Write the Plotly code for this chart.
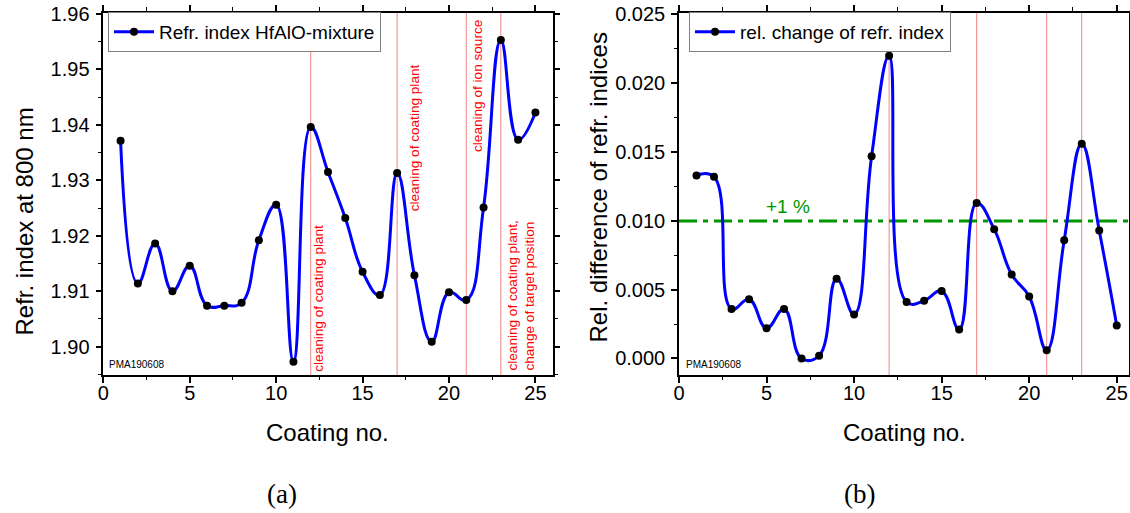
import plotly.graph_objects as go

# Coating runs
coating = list(range(1, 26))

# Refractive index at 800 nm of the HfAlO mixture per coating run
refr_index = [1.9371, 1.9114, 1.9186, 1.9100, 1.9146, 1.9074, 1.9074, 1.9079,
              1.9192, 1.9256, 1.8973, 1.9396, 1.9315, 1.9232, 1.9135, 1.9093,
              1.9313, 1.9129, 1.9009, 1.9098, 1.9084, 1.9251, 1.9553, 1.9373,
              1.9422]

# Relative change of the refractive index between consecutive runs
rel_change = [0.0133, 0.0132, 0.0036, 0.0043, 0.0022, 0.0036, 0.0000, 0.0002,
              0.0058, 0.0032, 0.0147, 0.0220, 0.0041, 0.0042, 0.0049, 0.0021,
              0.0113, 0.0094, 0.0061, 0.0045, 0.0006, 0.0086, 0.0156, 0.0093,
              0.0024]

# Maintenance events (coating no.) and their notes
event_coatings = [12, 17, 21, 23]
event_notes = ["cleaning of coating plant",
               "cleaning of coating plant",
               "cleaning of ion source",
               "cleaning of coating plant,<br>change of target position"]

threshold = 0.01
threshold_label = "+1 %"

W, H = 1130, 513
FONT = "Liberation Sans"
BLUE = "#0000ff"
EVENT_RED = "rgba(240,90,90,0.75)"
GREEN = "rgb(0,150,0)"


def px_x(p):
    return p / W


def px_y(p):
    return 1 - p / H


fig = go.Figure()

fig.add_trace(go.Scatter(
    x=coating, y=refr_index, mode="lines+markers",
    name="Refr. index HfAlO-mixture",
    line=dict(color=BLUE, width=3, shape="spline", smoothing=1.25),
    marker=dict(color="black", size=8),
    xaxis="x", yaxis="y", legend="legend",
))

fig.add_trace(go.Scatter(
    x=coating, y=rel_change, mode="lines+markers",
    name="rel. change of refr. index",
    line=dict(color=BLUE, width=3, shape="spline", smoothing=1.25),
    marker=dict(color="black", size=8),
    xaxis="x2", yaxis="y2", legend="legend2",
))

axis_style = dict(
    showline=True, linecolor="black", linewidth=1.5, mirror="ticks",
    ticks="outside", ticklen=6, tickwidth=1.5, tickcolor="black",
    showgrid=False, zeroline=False, automargin=False,
    tickfont=dict(family=FONT, size=20, color="black"),
)

y_dom = [px_y(375), px_y(12.7)]

legend_style = dict(
    xanchor="left", yanchor="top", itemwidth=40, tracegroupgap=0,
    bgcolor="white", bordercolor="rgb(130,130,130)", borderwidth=1,
    font=dict(family=FONT, size=19, color="black"),
)

fig.update_layout(
    width=W, height=H,
    margin=dict(l=0, r=0, t=0, b=0, autoexpand=False),
    paper_bgcolor="white", plot_bgcolor="white",
    font=dict(family=FONT, color="black"),
    xaxis=dict(domain=[px_x(103.3), px_x(552.7)], range=[0, 26],
               tick0=0, dtick=5, ticklabelstandoff=-7,
               minor=dict(dtick=2.5, ticks="outside", ticklen=3.5,
                          tickwidth=1.2, tickcolor="black"),
               anchor="y", **axis_style),
    yaxis=dict(domain=y_dom, range=[1.8949, 1.9602], tick0=1.90, dtick=0.01,
               tickformat=".2f", ticklabelstandoff=2,
               minor=dict(dtick=0.005, ticks="outside", ticklen=3.5,
                          tickwidth=1.2, tickcolor="black"),
               anchor="x", **axis_style),
    xaxis2=dict(domain=[px_x(679), px_x(1129)], range=[0, 25.7],
                tick0=0, dtick=5, ticklabelstandoff=-7,
                minor=dict(dtick=2.5, ticks="outside", ticklen=3.5,
                           tickwidth=1.2, tickcolor="black"),
                anchor="y2", **axis_style),
    yaxis2=dict(domain=y_dom, range=[-0.0012, 0.02513], tick0=0, dtick=0.005,
                tickformat=".3f", ticklabelstandoff=2,
                minor=dict(dtick=0.0025, ticks="outside", ticklen=3.5,
                           tickwidth=1.2, tickcolor="black"),
                anchor="x2", **axis_style),
    legend=dict(x=px_x(108), y=px_y(12), **legend_style),
    legend2=dict(x=px_x(689), y=px_y(12), **legend_style),
    showlegend=True,
)

# Vertical event markers in both panels
shapes = []
for ev in event_coatings:
    for xa, ya in (("x", "y"), ("x2", "y2")):
        shapes.append(dict(type="line", xref=xa, yref=f"{ya} domain",
                           x0=ev, x1=ev, y0=0, y1=1, layer="below",
                           line=dict(color=EVENT_RED, width=1)))

# +1 % threshold line in the right panel
shapes.append(dict(type="line", xref="x2 domain", yref="y2",
                   x0=0, x1=1, y0=threshold, y1=threshold, layer="below",
                   line=dict(color=GREEN, width=3, dash="18px,6px,5px,6px")))
fig.update_layout(shapes=shapes)

annotations = []

# Event notes, rotated, next to the event lines of the left panel
note_pos = [  # (x shift in px, vertical centre in px)
    (7.5, 298.5),
    (17.7, 137.5),
    (11.2, 85.5),
    (19.7, 296.0),
]
for ev, note, (dx, cy) in zip(event_coatings, event_notes, note_pos):
    annotations.append(dict(
        x=ev, xref="x", xshift=dx, y=px_y(cy), yref="paper",
        text=note, textangle=-90, showarrow=False, align="left",
        xanchor="center", yanchor="middle",
        font=dict(family=FONT, size=13.6, color="red"),
    ))


def label(xp, yp, text, font, angle=0, xanchor="center"):
    return dict(x=px_x(xp), y=px_y(yp), xref="paper", yref="paper",
                text=text, textangle=angle, showarrow=False,
                xanchor=xanchor, yanchor="middle", font=font)


# Axis titles
title_font = dict(family=FONT, size=24, color="black")
annotations += [
    label(24, 221.5, "Refr. index at 800 nm", title_font, angle=-90),
    label(598, 187.5, "Rel. difference of refr. indices", title_font, angle=-90),
    label(327.5, 432, "Coating no.", title_font),
    label(904, 432, "Coating no.", title_font),
]

# Panel captions
cap_font = dict(family="Liberation Serif", size=27, color="black")
annotations += [
    label(282, 494, "(a)", cap_font),
    label(859, 494, "(b)", cap_font),
]

# Sample id in both panels
for xp in (106.7, 684):
    annotations.append(label(xp, 364, "PMA190608",
                             dict(family=FONT, size=10, color="black"),
                             xanchor="left"))

# Threshold label
annotations.append(label(787.5, 207, threshold_label,
                         dict(family=FONT, size=19, color=GREEN)))

fig.update_layout(annotations=annotations)

fig.write_html("out.html")
